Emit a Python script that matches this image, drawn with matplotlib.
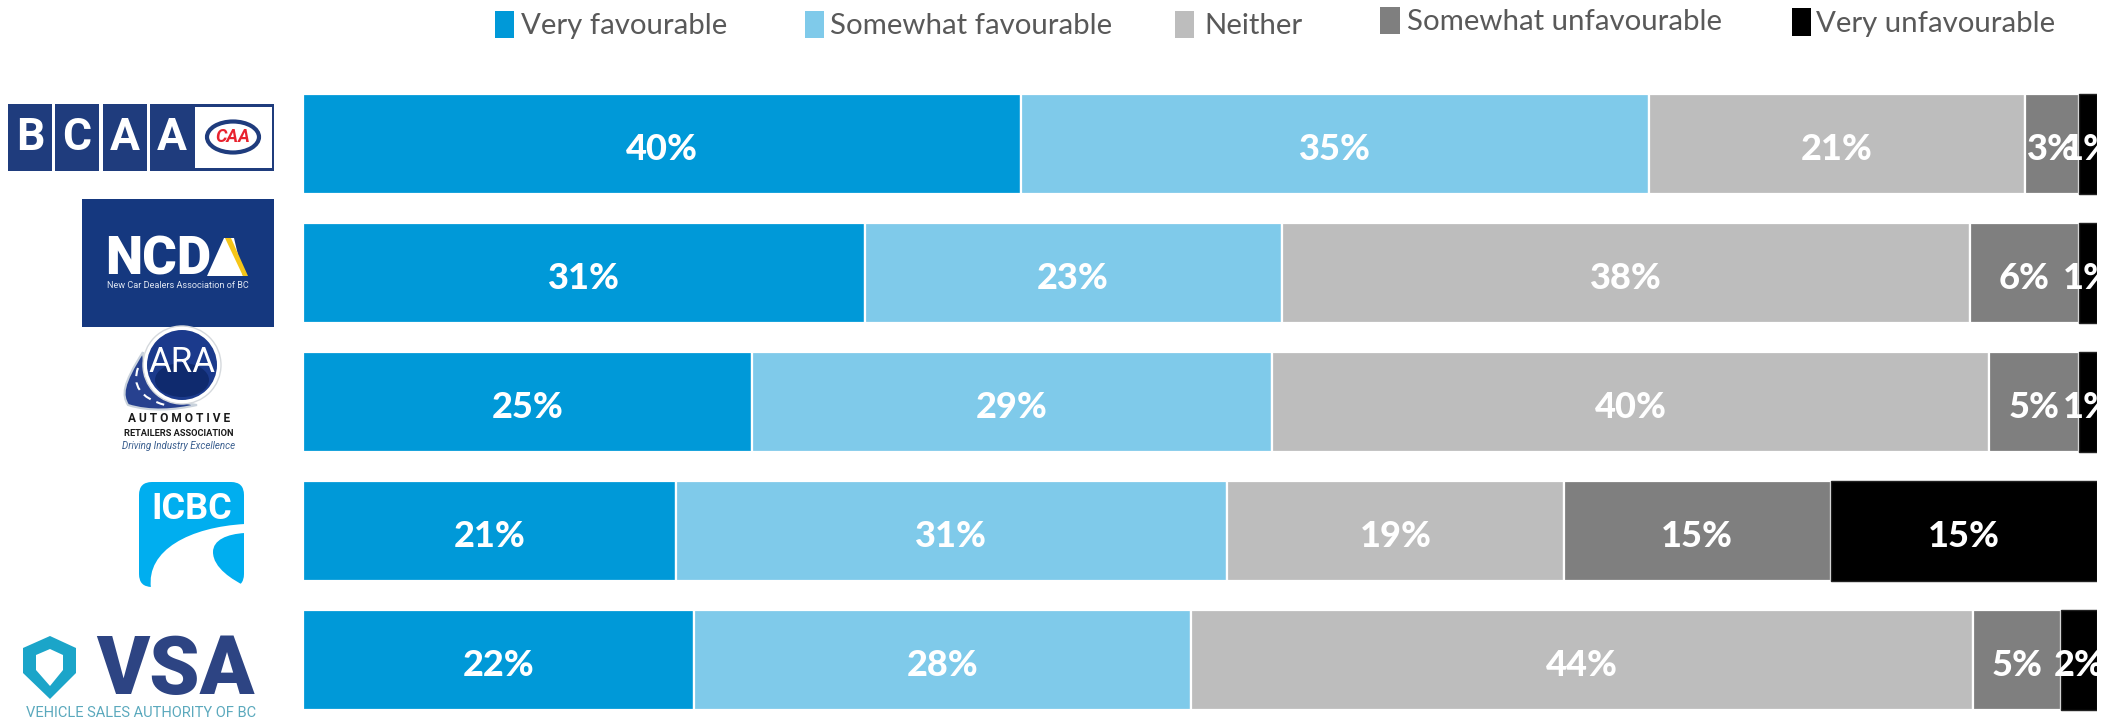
import matplotlib
matplotlib.use("Agg")
import matplotlib.pyplot as plt
import numpy as np
from matplotlib.patches import Rectangle, Circle, Ellipse, FancyBboxPatch, PathPatch, Polygon
from matplotlib.path import Path

plt.rcParams['font.family'] = ['Roboto', 'DejaVu Sans']

categories = ["Very favourable", "Somewhat favourable", "Neither",
              "Somewhat unfavourable", "Very unfavourable"]
colours = ["#0099d8", "#7fcaea", "#bdbdbd", "#7f7f7f", "#000000"]
orgs = ["BCAA", "NCDA", "ARA", "ICBC", "VSA"]
very_fav = [40, 31, 25, 21, 22]
some_fav = [35, 23, 29, 31, 28]
neither = [21, 38, 40, 19, 44]
some_unfav = [3, 6, 5, 15, 5]
very_unfav = [1, 1, 1, 15, 2]

W, H = 2121, 719
fig = plt.figure(figsize=(W / 100, H / 100), dpi=100, facecolor="white")

# stacked bars, each row scaled to 100%
ax = fig.add_axes([303 / W, 0, (2097 - 303) / W, (719 - 79.5) / H])
ax.set_xlim(0, 1)
ax.set_ylim(4 + (719 - 660) / 129, -0.5)
ax.axis("off")

values = np.array([very_fav, some_fav, neither, some_unfav, very_unfav], dtype=float)
shares = values / values.sum(axis=0)
left = np.zeros(len(orgs))
for k in range(len(categories)):
    edge = "white" if k < 4 else "#222222"
    ax.barh(range(len(orgs)), shares[k], left=left, height=0.775, color=colours[k],
            edgecolor=edge, linewidth=1.6 if k < 4 else 1.0)
    for r in range(len(orgs)):
        ax.text(left[r] + shares[k][r] / 2, r + 0.04, "%d%%" % values[k][r],
                color="white", fontsize=26, fontweight="black", family="Lato",
                ha="center", va="center", clip_on=True)
    left = left + shares[k]

# everything below is placed in pixel space
ov = fig.add_axes([0, 0, 1, 1])
ov.set_xlim(0, W)
ov.set_ylim(H, 0)
ov.axis("off")
ov.patch.set_alpha(0)

# legend
sq_x = [495, 805, 1175, 1380, 1792]
sq_w = [19, 19, 19, 20, 19]
sq_y = [11, 11, 11, 7, 8]
sq_h = [27, 27, 27, 27, 28]
txt_x = [521, 830, 1204, 1407, 1816]
txt_y = [26, 26, 26, 22, 24]
for k, name in enumerate(categories):
    ov.add_patch(Rectangle((sq_x[k], sq_y[k]), sq_w[k], sq_h[k], color=colours[k], lw=0))
    ov.text(txt_x[k], txt_y[k], name, color="#595959", fontsize=21.2, family="Lato",
            ha="left", va="center")

navy = "#1f3c7d"

# BCAA logo
for x0, w, letter in [(8, 44, "B"), (55, 44, "C"), (103, 44, "A"), (150, 44, "A")]:
    ov.add_patch(Rectangle((x0, 104), w, 67, color=navy, lw=0))
    ov.text(x0 + w / 2, 138, letter, color="white", fontsize=32, fontweight="bold",
            ha="center", va="center")
ov.add_patch(Rectangle((192, 104), 82, 67, color=navy, lw=0))
ov.add_patch(Rectangle((195, 107), 77, 61, color="white", lw=0))
ov.add_patch(Ellipse((233, 137), 52, 31, fc="white", ec=navy, lw=3))
ov.text(233, 137, "CAA", color="#e8222e", fontsize=13, fontweight="bold", style="italic",
        ha="center", va="center")

# NCDA logo
ov.add_patch(Rectangle((82, 199), 192, 128, color="#15387f", lw=0))
ov.text(105, 260, "NCD", color="white", fontsize=38, fontweight="black", ha="left", va="center")
ov.add_patch(Polygon([(207, 276), (224, 238), (234, 238), (243, 276)], color="white", lw=0))
ov.add_patch(Polygon([(225, 238), (231, 238), (248, 276), (243, 276)], color="#f5c518", lw=0))
ov.text(178, 286, "New Car Dealers Association of BC", color="#dfe6f2", fontsize=6.6,
        ha="center", va="center")

# ARA logo
road = Path([(143, 352), (122, 385), (122, 395), (128, 405), (150, 412), (175, 410), (197, 405),
             (165, 400), (145, 385), (143, 352)],
            [Path.MOVETO, Path.CURVE4, Path.CURVE4, Path.CURVE4, Path.CURVE4, Path.CURVE4,
             Path.CURVE4, Path.CURVE4, Path.CURVE4, Path.CURVE4])
ov.add_patch(PathPatch(road, fc="#27418f", ec="#c9d2dc", lw=1.5))
centre_line = Path([(138, 368), (132, 385), (140, 398), (165, 405)],
                   [Path.MOVETO, Path.CURVE4, Path.CURVE4, Path.CURVE4])
ov.add_patch(PathPatch(centre_line, fc="none", ec="white", lw=1.5, ls=(0, (4, 3))))
ov.add_patch(Circle((182, 365), 39, fc="white", ec="#d5d9dd", lw=1))
ov.add_patch(Circle((182, 365), 35, fc="#1b3a8c", lw=0))
ov.add_patch(Ellipse((182, 380), 54, 34, fc="#0f2a6e", lw=0))
ov.text(182, 362, "ARA", color="white", fontsize=25, ha="center", va="center")
ov.text(179, 419, "A U T O M O T I V E", color="#1a1a1a", fontsize=8.6, fontweight="bold",
        ha="center", va="center")
ov.text(179, 433, "RETAILERS ASSOCIATION", color="#1a1a1a", fontsize=6.7, fontweight="bold",
        ha="center", va="center")
ov.text(179, 446, "Driving Industry Excellence", color="#3b5f8f", fontsize=7.0, style="italic",
        ha="center", va="center")

# ICBC logo
ov.add_patch(FancyBboxPatch((139, 482), 105, 105, boxstyle="round,pad=0,rounding_size=13",
                            fc="#00aeef", lw=0))
ov.text(192, 509, "ICBC", color="white", fontsize=26, fontweight="bold", ha="center", va="center")
swoosh = Path([(245, 524), (190, 527), (146, 550), (151, 588), (245, 588), (245, 586),
               (233, 580), (213, 568), (213, 552), (213, 540), (227, 534), (245, 533), (245, 524)],
              [Path.MOVETO, Path.CURVE4, Path.CURVE4, Path.CURVE4, Path.LINETO, Path.LINETO,
               Path.CURVE4, Path.CURVE4, Path.CURVE4, Path.CURVE4, Path.CURVE4, Path.CURVE4,
               Path.LINETO])
ov.add_patch(PathPatch(swoosh, fc="white", lw=0))

# VSA logo
shield = [(50, 636), (76, 648), (76, 673), (50, 699), (23, 673), (23, 648)]
shield_in = [(50, 649), (63, 655), (63, 670), (50, 686), (36, 670), (36, 655)]
ov.add_patch(Polygon(shield, fc="#1ba5c9", lw=0, joinstyle="round"))
ov.add_patch(Polygon(shield_in, fc="white", lw=0, joinstyle="round"))
ov.text(175, 672, "VSA", color="#2d4483", fontsize=58, fontweight="black", ha="center", va="center")
ov.text(141, 713, "VEHICLE SALES AUTHORITY OF BC", color="#5ba9bd", fontsize=10.5,
        ha="center", va="center")

fig.savefig("out.png", dpi=100)
